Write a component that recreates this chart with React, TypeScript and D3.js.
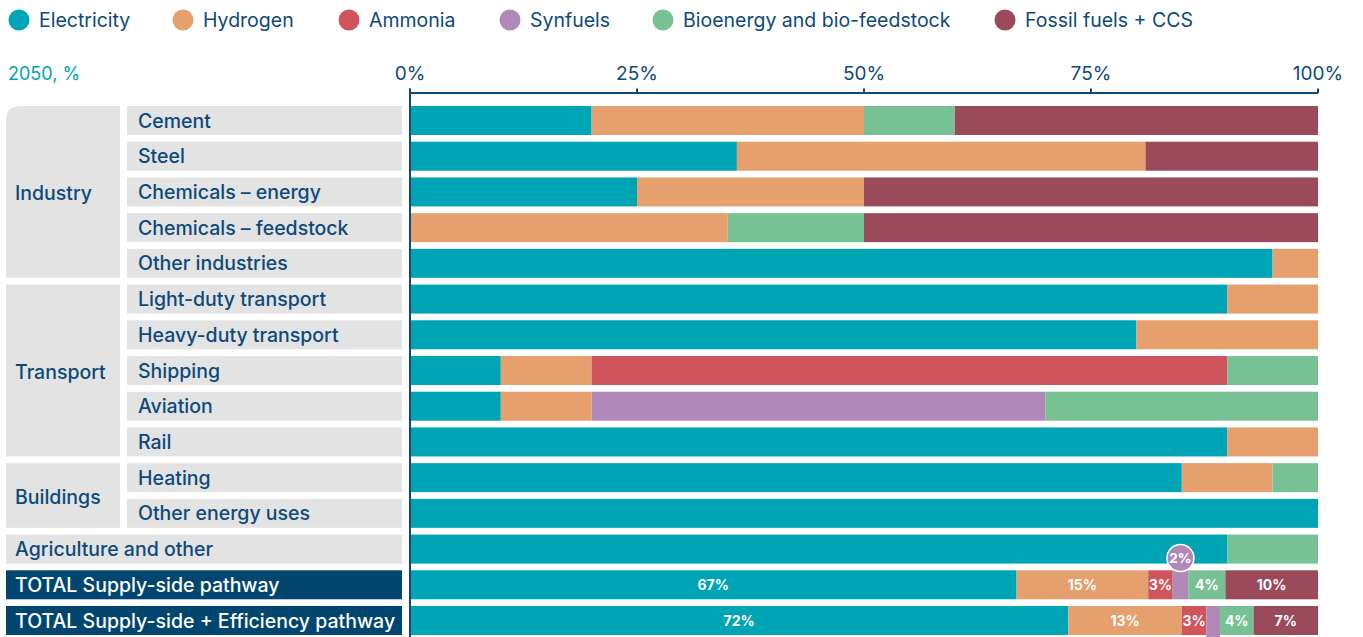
import React, { useEffect, useRef } from "react";
import * as d3 from "d3";

const series = ["Electricity", "Hydrogen", "Ammonia", "Synfuels", "Bioenergy and bio-feedstock", "Fossil fuels + CCS"];
const seriesColors = ["#00a5b5", "#e5a06d", "#d0545c", "#b189b9", "#78c194", "#9a4a58"];

const categories = [
  "Cement", "Steel", "Chemicals – energy", "Chemicals – feedstock", "Other industries",
  "Light-duty transport", "Heavy-duty transport", "Shipping", "Aviation", "Rail",
  "Heating", "Other energy uses", "Agriculture and other",
  "TOTAL Supply-side pathway", "TOTAL Supply-side + Efficiency pathway",
];

const groups = [
  { name: "Industry", from: 0, to: 4 },
  { name: "Transport", from: 5, to: 9 },
  { name: "Buildings", from: 10, to: 11 },
];

const electricity = [20, 36, 25, 0, 95, 90, 80, 10, 10, 90, 85, 100, 90, 66.8, 72.5];
const hydrogen = [30, 45, 25, 35, 5, 10, 20, 10, 10, 10, 10, 0, 0, 14.5, 12.5];
const ammonia = [0, 0, 0, 0, 0, 0, 0, 70, 0, 0, 0, 0, 0, 2.7, 2.7];
const synfuels = [0, 0, 0, 0, 0, 0, 0, 0, 50, 0, 0, 0, 0, 1.7, 1.5];
const bioenergy = [10, 0, 0, 15, 0, 0, 0, 10, 30, 0, 5, 0, 10, 4.1, 3.7];
const fossil = [40, 19, 50, 50, 0, 0, 0, 0, 0, 0, 0, 0, 0, 10.2, 7.1];

const totalSupplyLabels = ["67%", "15%", "3%", "2%", "4%", "10%"];
const totalEfficiencyLabels = ["72%", "13%", "3%", "", "4%", "7%"];

const tickValues = [0, 25, 50, 75, 100];
const yearLabel = "2050, %";

// layout (not data)
const legendCx = [19, 183, 349, 510, 663, 1005];
const W = 1363;
const H = 637;
const FONT = "Inter, 'Noto Sans', sans-serif";
const TEXT = "#0d4a7b";
const BOX = "#e3e3e3";
const DARK = "#00466f";
const LABEL_SIZE = 19.5;

export default function App() {
  const ref = useRef<SVGSVGElement | null>(null);

  useEffect(() => {
    const svg = d3.select(ref.current);
    svg.selectAll("*").remove();

    const x = d3.scaleLinear().domain([0, 100]).range([410, 1318]);
    const y = d3.scaleBand<number>().domain(d3.range(categories.length)).range([106, 635]).paddingInner(0.188).paddingOuter(0);
    const bh = y.bandwidth();

    const keys = series;
    const cols = [electricity, hydrogen, ammonia, synfuels, bioenergy, fossil];
    const table = categories.map((c, i) => {
      const row: any = { cat: c, idx: i };
      keys.forEach((k, j) => (row[k] = cols[j][i]));
      return row;
    });
    const stacked = d3.stack<any>().keys(keys)(table);

    // Legend
    const lg = svg.append("g");
    series.forEach((s, i) => {
      lg.append("circle").attr("cx", legendCx[i]).attr("cy", 20).attr("r", 10.5).attr("fill", seriesColors[i]);
      lg.append("text").attr("x", legendCx[i] + 20).attr("y", 27).attr("fill", TEXT)
        .attr("font-family", FONT).attr("font-size", LABEL_SIZE).text(s);
    });

    // Header
    svg.append("text").attr("x", 8).attr("y", 80).attr("fill", "#00a5b5").attr("font-family", FONT)
      .attr("font-size", 18).text(yearLabel);

    // Axis
    const ax = svg.append("g");
    ax.selectAll("text.tick").data(tickValues).join("text").attr("class", "tick")
      .attr("x", (d) => x(d)).attr("y", 80).attr("text-anchor", "middle").attr("fill", TEXT)
      .attr("font-family", FONT).attr("font-size", 19).text((d) => `${d}%`);
    ax.append("line").attr("x1", x(0)).attr("x2", x(100)).attr("y1", 93).attr("y2", 93)
      .attr("stroke", TEXT).attr("stroke-width", 2);
    ax.selectAll("line.tk").data(tickValues).join("line").attr("class", "tk")
      .attr("x1", (d) => x(d)).attr("x2", (d) => x(d)).attr("y1", 88.5).attr("y2", 93)
      .attr("stroke", TEXT).attr("stroke-width", 2);

    // Left label boxes
    const lbl = svg.append("g");
    groups.forEach((g, gi) => {
      const y0 = y(g.from)!;
      const y1 = y(g.to)! + bh;
      if (gi === 0) {
        const r = 15;
        lbl.append("path").attr("d", `M6,${y1} L6,${y0 + r} Q6,${y0} ${6 + r},${y0} L120,${y0} L120,${y1} Z`).attr("fill", BOX);
      } else {
        lbl.append("rect").attr("x", 6).attr("y", y0).attr("width", 114).attr("height", y1 - y0).attr("fill", BOX);
      }
      lbl.append("text").attr("x", 15).attr("y", (y0 + y1) / 2 + 8.5).attr("fill", TEXT).attr("font-family", FONT)
        .attr("font-size", LABEL_SIZE).attr("font-weight", 500).text(g.name);
    });
    categories.forEach((c, i) => {
      const inGroup = groups.some((g) => i >= g.from && i <= g.to);
      const isTotal = i >= 13;
      const bx = inGroup ? 127 : 6;
      lbl.append("rect").attr("x", bx).attr("y", y(i)!).attr("width", 402 - bx).attr("height", bh)
        .attr("fill", isTotal ? DARK : BOX);
      lbl.append("text").attr("x", inGroup ? 138 : 15).attr("y", y(i)! + bh / 2 + 7)
        .attr("fill", isTotal ? "#ffffff" : TEXT).attr("font-family", FONT).attr("font-size", LABEL_SIZE)
        .attr("font-weight", 500).text(c);
    });

    // Bars
    const bars = svg.append("g");
    stacked.forEach((layer, j) => {
      bars.selectAll(null).data(layer).join("rect")
        .attr("x", (d) => x(d[0])).attr("width", (d) => x(d[1]) - x(d[0]))
        .attr("y", (d, i) => y(i)!).attr("height", bh).attr("fill", seriesColors[j]);
    });

    // Synfuel callouts for totals
    const syn = stacked[3];
    const s1 = syn[13];
    const s2 = syn[14];
    const c1 = (x(s1[0]) + x(s1[1])) / 2;
    bars.append("rect").attr("x", x(s1[0])).attr("width", x(s1[1]) - x(s1[0])).attr("y", 558).attr("height", y(13)! - 558)
      .attr("fill", seriesColors[3]);
    bars.append("circle").attr("cx", c1).attr("cy", 558).attr("r", 13.5).attr("fill", seriesColors[3])
      .attr("stroke", "#ffffff").attr("stroke-width", 1.5);
    bars.append("text").attr("x", c1).attr("y", 563).attr("text-anchor", "middle").attr("fill", "#fff")
      .attr("font-family", FONT).attr("font-size", 13.5).attr("font-weight", 700).text(totalSupplyLabels[3]);
    const c2 = (x(s2[0]) + x(s2[1])) / 2;
    bars.append("rect").attr("x", x(s2[0])).attr("width", x(s2[1]) - x(s2[0])).attr("y", y(14)! + bh - 1).attr("height", 30)
      .attr("fill", seriesColors[3]);
    bars.append("circle").attr("cx", c2).attr("cy", 651).attr("r", 13.5).attr("fill", seriesColors[3])
      .attr("stroke", "#ffffff").attr("stroke-width", 1.5);

    // Total labels
    [13, 14].forEach((ri, k) => {
      const labels = k === 0 ? totalSupplyLabels : totalEfficiencyLabels;
      stacked.forEach((layer, j) => {
        if (j === 3) return;
        const d = layer[ri];
        if (!labels[j]) return;
        bars.append("text").attr("x", (x(d[0]) + x(d[1])) / 2).attr("y", y(ri)! + bh / 2 + 5)
          .attr("text-anchor", "middle").attr("fill", "#fff").attr("font-family", FONT)
          .attr("font-size", 14).attr("font-weight", 700).text(labels[j]);
      });
    });

    // Vertical axis line
    svg.append("line").attr("x1", x(0)).attr("x2", x(0)).attr("y1", 88.5).attr("y2", H)
      .attr("stroke", TEXT).attr("stroke-width", 2);
  }, []);

  return (
    <svg ref={ref} width={W} height={H} style={{ position: "absolute", left: 0, top: 0, display: "block" }} />
  );
}
